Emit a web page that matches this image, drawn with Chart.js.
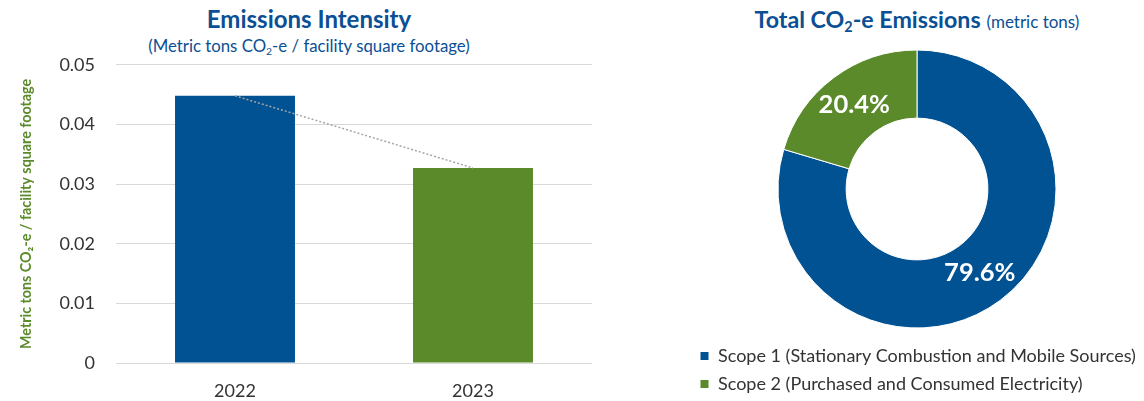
<!DOCTYPE html>
<html>
<head>
<meta charset="utf-8">
<script src="https://cdn.jsdelivr.net/npm/chart.js@4.4.1/dist/chart.umd.min.js"></script>
<style>
    body { margin: 0; width: 1144px; height: 401px; background: #fff; position: relative; overflow: hidden; font-family: Lato, sans-serif; }
    .title { position: absolute; text-align: center; color: #0b4f94; white-space: nowrap; }
    .title b { font-weight: 700; }
    .title sub { font-size: 0.62em; vertical-align: -0.25em; line-height: 0; }
    #leftTitle { left: 0; width: 618px; top: 4px; font-size: 24px; font-weight: 700; line-height: 30px; }
    #leftSub { left: 0; width: 618px; top: 35px; font-size: 16.8px; line-height: 22px; }
    #rightTitle { left: 688px; width: 458px; top: 4px; font-size: 23.2px; line-height: 30px; }
    #rightTitle span { font-size: 17px; }
    .box { position: absolute; }
    #leftBox { left: 0; top: 33px; width: 618px; height: 368px; }
    #rightBox { left: 688px; top: 41px; width: 456px; height: 362px; }
</style>
</head>
<body>
<div class="title" id="leftTitle">Emissions Intensity</div>
<div class="title" id="leftSub">(Metric tons CO<sub>2</sub>-e / facility square footage)</div>
<div class="title" id="rightTitle"><b>Total CO<sub>2</sub>-e Emissions</b> <span>(metric tons)</span></div>
<div class="box" id="leftBox"><canvas id="intensityChart"></canvas></div>
<div class="box" id="rightBox"><canvas id="totalChart"></canvas></div>

<script>
// chart data
const intensityYears = ['2022', '2023'];
const intensityValues = [0.0448, 0.0327];
const intensityTicks = [0, 0.01, 0.02, 0.03, 0.04, 0.05];
const scopeLabels = ['Scope 1 (Stationary Combustion and Mobile Sources)', 'Scope 2 (Purchased and Consumed Electricity)'];
const scopeShares = [79.6, 20.4];

const BLUE = '#005293';
const GREEN = '#5b8a2b';
const TEXT = '#333333';

Chart.defaults.font.family = 'Lato, sans-serif';
Chart.defaults.animation = false;
Chart.defaults.maintainAspectRatio = false;
Chart.defaults.plugins.tooltip.enabled = false;

new Chart(document.getElementById('intensityChart'), {
    type: 'bar',
    data: {
        labels: intensityYears,
        datasets: [{
            type: 'line',
            data: intensityValues,
            borderColor: '#a6a6a6',
            borderWidth: 1.5,
            borderDash: [2, 2],
            pointRadius: 0,
            fill: false,
            order: 0
        }, {
            data: intensityValues,
            backgroundColor: [BLUE, GREEN],
            barPercentage: 0.504,
            categoryPercentage: 1,
            order: 1
        }]
    },
    options: {
        layout: { padding: { top: 0, right: 26, left: 0, bottom: 0 } },
        plugins: { legend: { display: false } },
        scales: {
            x: {
                grid: { display: false, drawTicks: false },
                border: { display: false },
                ticks: { color: TEXT, font: { size: 18 }, padding: 17 },
                afterFit: (s) => { s.height = 38; }
            },
            y: {
                min: 0,
                max: 0.05,
                afterBuildTicks: (s) => { s.ticks = intensityTicks.map(v => ({ value: v })); },
                grid: { color: '#d9d9d9', drawTicks: false },
                border: { display: false },
                ticks: {
                    color: TEXT,
                    font: { size: 18 },
                    padding: 21,
                    callback: (v) => v === 0 ? '0' : v.toFixed(2)
                },
                title: {
                    display: true,
                    text: 'Metric tons CO₂-e / facility square footage',
                    color: GREEN,
                    font: { size: 14.3, weight: 'bold' },
                    padding: { top: 18, bottom: 0 }
                },
                afterFit: (s) => { s.width = 116; }
            }
        }
    }
});

const sliceLabels = {
    id: 'sliceLabels',
    afterDatasetsDraw(chart) {
        const { ctx } = chart;
        const meta = chart.getDatasetMeta(0);
        ctx.save();
        ctx.font = 'bold 25.5px Lato, sans-serif';
        ctx.fillStyle = '#ffffff';
        ctx.textAlign = 'center';
        ctx.textBaseline = 'middle';
        meta.data.forEach((arc, i) => {
            const p = arc.tooltipPosition();
            ctx.fillText(scopeShares[i].toFixed(1) + '%', p.x, p.y);
        });
        ctx.restore();
    }
};

new Chart(document.getElementById('totalChart'), {
    type: 'doughnut',
    data: {
        labels: scopeLabels,
        datasets: [{
            data: scopeShares,
            backgroundColor: [BLUE, GREEN],
            borderColor: '#ffffff',
            borderWidth: 1
        }]
    },
    options: {
        radius: 139,
        cutout: '51%',
        layout: { padding: { top: -2, right: 0, left: 2, bottom: 0 } },
        plugins: {
            legend: {
                position: 'bottom',
                align: 'start',
                labels: {
                    color: TEXT,
                    boxWidth: 9,
                    boxHeight: 9,
                    padding: 10,
                    font: { size: 18 }
                }
            }
        }
    },
    plugins: [sliceLabels]
});
</script>
</body>
</html>
